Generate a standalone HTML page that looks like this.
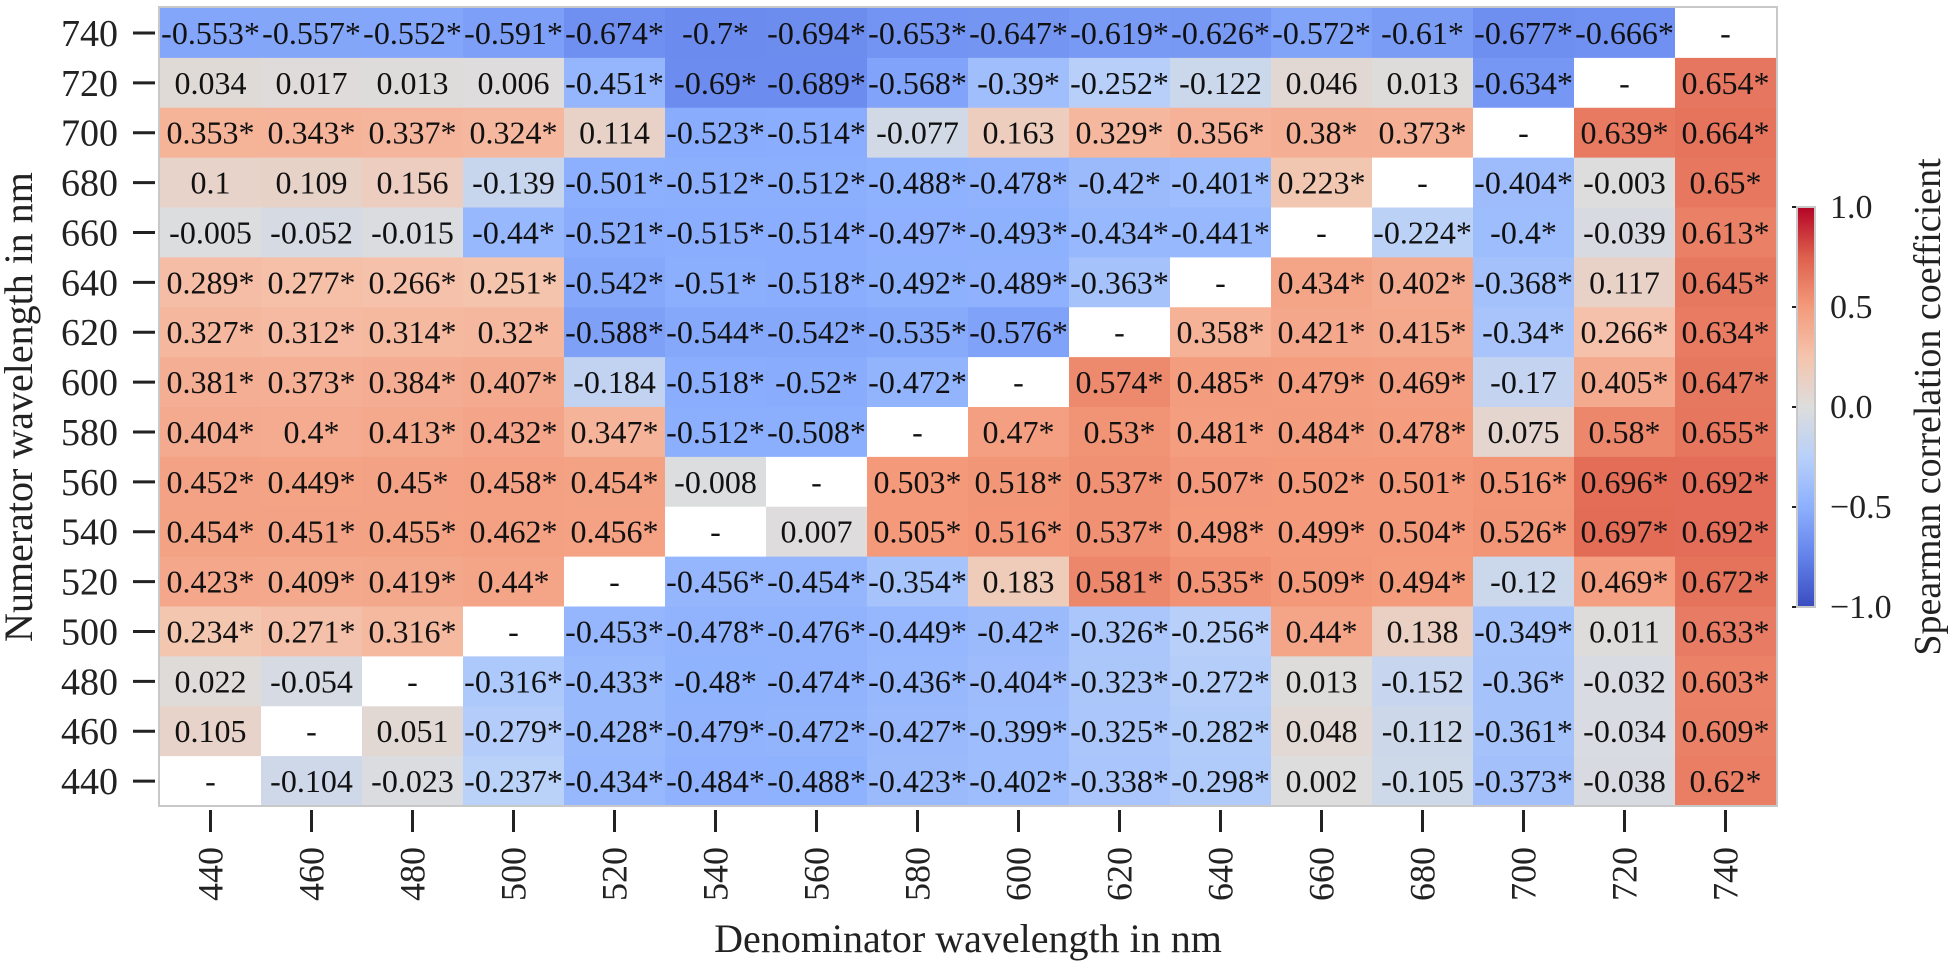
<!DOCTYPE html>
<html><head><meta charset="utf-8"><style>
html,body{margin:0;padding:0;background:#fff;}
svg{display:block;font-family:"Liberation Serif",serif;}
</style></head><body>
<svg id="chart" width="1956" height="972" viewBox="0 0 1956 972" xmlns="http://www.w3.org/2000/svg">
<defs>
<linearGradient id="cw" x1="0" y1="1" x2="0" y2="0">
<stop offset="0" stop-color="rgb(59,76,192)"/><stop offset="0.125" stop-color="rgb(98,130,234)"/><stop offset="0.25" stop-color="rgb(141,176,254)"/><stop offset="0.375" stop-color="rgb(184,208,249)"/><stop offset="0.5" stop-color="rgb(221,221,221)"/><stop offset="0.625" stop-color="rgb(245,196,173)"/><stop offset="0.75" stop-color="rgb(244,154,123)"/><stop offset="0.875" stop-color="rgb(222,96,77)"/><stop offset="1" stop-color="rgb(180,4,38)"/>
</linearGradient>
</defs>
<g id="cells"></g>
<rect x="159" y="7" width="1618" height="799" fill="none" stroke="#c8c8c8" stroke-width="2"/>
<g id="axes"></g>
<text x="968" y="952" font-size="40" text-anchor="middle" fill="#222">Denominator wavelength in nm</text>
<text transform="translate(32,407) rotate(-90)" font-size="40" text-anchor="middle" fill="#222">Numerator wavelength in nm</text>
<rect x="1797" y="207" width="18" height="400" fill="url(#cw)" stroke="#c8c8c8" stroke-width="2"/>
<g id="cbar"></g>
<text transform="translate(1940,407) rotate(-90)" font-size="38" text-anchor="middle" fill="#222">Spearman correlation coefficient</text>
</svg>
<script>
const columns = [440,460,480,500,520,540,560,580,600,620,640,660,680,700,720,740];
const rows = [740,720,700,680,660,640,620,600,580,560,540,520,500,480,460,440];
const r740 = ["-0.553*","-0.557*","-0.552*","-0.591*","-0.674*","-0.7*","-0.694*","-0.653*","-0.647*","-0.619*","-0.626*","-0.572*","-0.61*","-0.677*","-0.666*","-"];
const r720 = ["0.034","0.017","0.013","0.006","-0.451*","-0.69*","-0.689*","-0.568*","-0.39*","-0.252*","-0.122","0.046","0.013","-0.634*","-","0.654*"];
const r700 = ["0.353*","0.343*","0.337*","0.324*","0.114","-0.523*","-0.514*","-0.077","0.163","0.329*","0.356*","0.38*","0.373*","-","0.639*","0.664*"];
const r680 = ["0.1","0.109","0.156","-0.139","-0.501*","-0.512*","-0.512*","-0.488*","-0.478*","-0.42*","-0.401*","0.223*","-","-0.404*","-0.003","0.65*"];
const r660 = ["-0.005","-0.052","-0.015","-0.44*","-0.521*","-0.515*","-0.514*","-0.497*","-0.493*","-0.434*","-0.441*","-","-0.224*","-0.4*","-0.039","0.613*"];
const r640 = ["0.289*","0.277*","0.266*","0.251*","-0.542*","-0.51*","-0.518*","-0.492*","-0.489*","-0.363*","-","0.434*","0.402*","-0.368*","0.117","0.645*"];
const r620 = ["0.327*","0.312*","0.314*","0.32*","-0.588*","-0.544*","-0.542*","-0.535*","-0.576*","-","0.358*","0.421*","0.415*","-0.34*","0.266*","0.634*"];
const r600 = ["0.381*","0.373*","0.384*","0.407*","-0.184","-0.518*","-0.52*","-0.472*","-","0.574*","0.485*","0.479*","0.469*","-0.17","0.405*","0.647*"];
const r580 = ["0.404*","0.4*","0.413*","0.432*","0.347*","-0.512*","-0.508*","-","0.47*","0.53*","0.481*","0.484*","0.478*","0.075","0.58*","0.655*"];
const r560 = ["0.452*","0.449*","0.45*","0.458*","0.454*","-0.008","-","0.503*","0.518*","0.537*","0.507*","0.502*","0.501*","0.516*","0.696*","0.692*"];
const r540 = ["0.454*","0.451*","0.455*","0.462*","0.456*","-","0.007","0.505*","0.516*","0.537*","0.498*","0.499*","0.504*","0.526*","0.697*","0.692*"];
const r520 = ["0.423*","0.409*","0.419*","0.44*","-","-0.456*","-0.454*","-0.354*","0.183","0.581*","0.535*","0.509*","0.494*","-0.12","0.469*","0.672*"];
const r500 = ["0.234*","0.271*","0.316*","-","-0.453*","-0.478*","-0.476*","-0.449*","-0.42*","-0.326*","-0.256*","0.44*","0.138","-0.349*","0.011","0.633*"];
const r480 = ["0.022","-0.054","-","-0.316*","-0.433*","-0.48*","-0.474*","-0.436*","-0.404*","-0.323*","-0.272*","0.013","-0.152","-0.36*","-0.032","0.603*"];
const r460 = ["0.105","-","0.051","-0.279*","-0.428*","-0.479*","-0.472*","-0.427*","-0.399*","-0.325*","-0.282*","0.048","-0.112","-0.361*","-0.034","0.609*"];
const r440 = ["-","-0.104","-0.023","-0.237*","-0.434*","-0.484*","-0.488*","-0.423*","-0.402*","-0.338*","-0.298*","0.002","-0.105","-0.373*","-0.038","0.62*"];
const cellValues = [r740,r720,r700,r680,r660,r640,r620,r600,r580,r560,r540,r520,r500,r480,r460,r440];
const cbarTicks = [1.0,0.5,0.0,-0.5,-1.0];

const NS="http://www.w3.org/2000/svg";
const X0=160, CW=101, Y0=8, CH=49.875;
const xPos=i=>X0+i*CW, yPos=j=>Y0+j*CH;
const cbY=v=>207+(1-v)/2*400;
const stops=[[59,76,192],[98,130,234],[141,176,254],[184,208,249],[221,221,221],[245,196,173],[244,154,123],[222,96,77],[180,4,38]];
function cmap(v){let t=(v+1)/2*8;t=Math.max(0,Math.min(8,t));const i=Math.min(7,Math.floor(t)),f=t-i;const a=stops[i],b=stops[i+1];return `rgb(${a.map((c,k)=>Math.round(c+(b[k]-c)*f)).join(',')})`;}
function mk(tag,attrs,parent){const e=document.createElementNS(NS,tag);for(const k in attrs)e.setAttribute(k,attrs[k]);parent.appendChild(e);return e;}
const cells=document.getElementById('cells'), axes=document.getElementById('axes'), cbar=document.getElementById('cbar');
cellValues.forEach((row,j)=>{row.forEach((s,i)=>{
  const v=parseFloat(s);
  const r=mk('rect',{x:xPos(i),y:yPos(j),width:CW+0.6,height:CH+0.6,fill:isNaN(v)?'#ffffff':cmap(v)},cells);
  
  
  const t=mk('text',{x:xPos(i)+CW/2,y:yPos(j)+CH/2+11,'font-size':32,'text-anchor':'middle',fill:'#111'},cells);
  t.textContent=s;
  
  
});});
rows.forEach((r,j)=>{
  const cy=yPos(j)+CH/2;
  const l=mk('line',{x1:133,x2:155,y1:cy,y2:cy,stroke:'#222','stroke-width':3},axes);
  
  
  const t=mk('text',{x:118,y:cy+13,'font-size':38,'text-anchor':'end',fill:'#222'},axes);
  t.textContent=r;
  
  
});
columns.forEach((c,i)=>{
  const cx=xPos(i)+CW/2;
  const l=mk('line',{x1:cx,x2:cx,y1:810,y2:832,stroke:'#222','stroke-width':3},axes);
  
  
  const t=mk('text',{transform:`translate(${cx+12},847) rotate(-90)`,'font-size':36,'text-anchor':'end',fill:'#222'},axes);
  t.textContent=c;
  
  
});
cbarTicks.forEach(v=>{
  const y=cbY(v);
  const l=mk('line',{x1:1792,x2:1796,y1:y,y2:y,stroke:'#222','stroke-width':2},cbar);
  
  
  const t=mk('text',{x:1830,y:y+11,'font-size':34,fill:'#222'},cbar);
  t.textContent=(v<0?'\u2212':'')+Math.abs(v).toFixed(1);
  
  
});
</script>
</body></html>
